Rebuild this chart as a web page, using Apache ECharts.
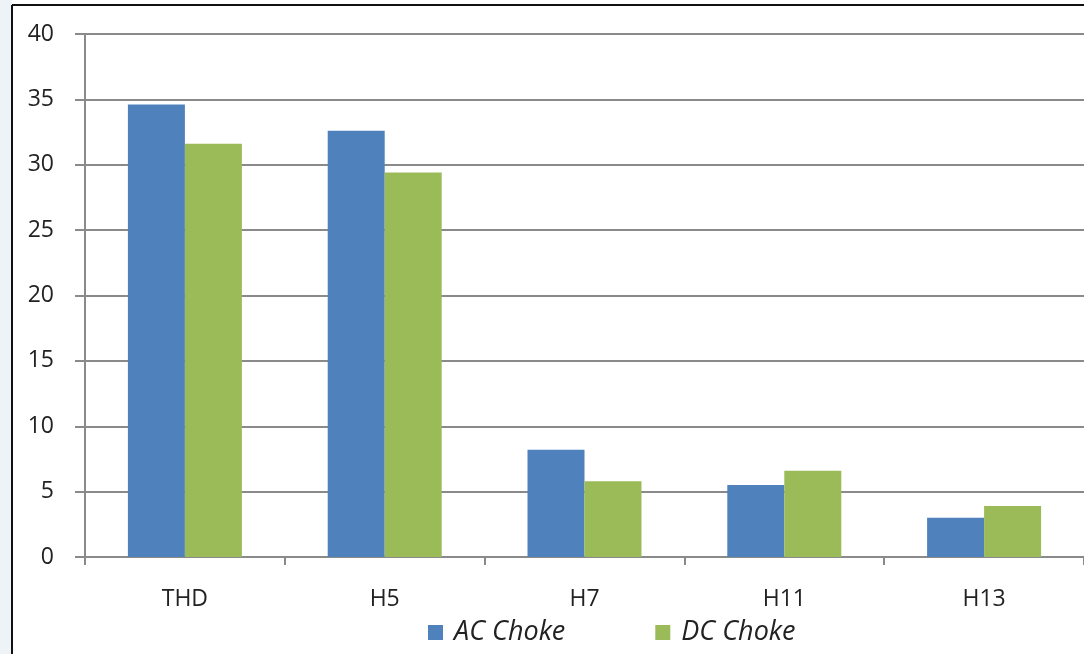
<!DOCTYPE html>
<html>
<head>
<meta charset="utf-8">
<script src="https://cdn.jsdelivr.net/npm/echarts@6/dist/echarts.min.js"></script>
<style>
  html, body { margin: 0; padding: 0; background: #fff; }
  #main { width: 1084px; height: 654px; }
</style>
</head>
<body>
<div id="main"></div>
<script type="text/javascript">
var categories = ['THD', 'H5', 'H7', 'H11', 'H13'];
var acChoke = [34.6, 32.6, 8.2, 5.5, 3.0];
var dcChoke = [31.6, 29.4, 5.8, 6.6, 3.9];
var yTicks = [0, 5, 10, 15, 20, 25, 30, 35, 40];

var myChart = echarts.init(document.getElementById('main'));
var lineColor = '#8a8a8a';
var option = {
    backgroundColor: '#ffffff',
    animation: false,
    // frame of the pasted picture: pale strip on the left, dark border
    graphic: [
        { type: 'rect', left: 0, top: 0, shape: { width: 12, height: 654 }, style: { fill: '#eef3f8' }, z: -1 },
        { type: 'line', shape: { x1: 12, y1: 5, x2: 1084, y2: 5 }, style: { stroke: '#111', lineWidth: 2 } },
        { type: 'line', shape: { x1: 12, y1: 5, x2: 12, y2: 654 }, style: { stroke: '#111', lineWidth: 2 } }
    ],
    grid: { left: 85, right: -5, top: 34, bottom: 97, containLabel: false },
    legend: {
        data: ['AC Choke', 'DC Choke'],
        top: 619,
        left: 428,
        padding: 0,
        itemWidth: 15,
        itemHeight: 15,
        itemGap: 90,
        icon: 'rect',
        textStyle: { fontFamily: 'Open Sans', fontStyle: 'italic', fontSize: 27, color: '#222', padding: [0, 0, 0, 6] }
    },
    xAxis: {
        type: 'category',
        data: categories,
        axisLine: { lineStyle: { color: lineColor, width: 2 } },
        axisTick: { show: true, length: 8, lineStyle: { color: lineColor, width: 2 } },
        axisLabel: { fontFamily: 'Open Sans', fontSize: 23, color: '#222', margin: 31 }
    },
    yAxis: {
        type: 'value',
        min: yTicks[0],
        max: yTicks[yTicks.length - 1],
        interval: yTicks[1] - yTicks[0],
        axisLine: { show: true, lineStyle: { color: lineColor, width: 2 } },
        axisTick: { show: true, length: 10, lineStyle: { color: lineColor, width: 2 } },
        axisLabel: { fontFamily: 'Open Sans', fontSize: 23, color: '#222', margin: 31 },
        splitLine: { lineStyle: { color: lineColor, width: 2 } }
    },
    series: [
        { name: 'AC Choke', type: 'bar', data: acChoke, barWidth: 57, barGap: '0%', itemStyle: { color: '#4f81bd' } },
        { name: 'DC Choke', type: 'bar', data: dcChoke, barWidth: 57, itemStyle: { color: '#9bbb59' } }
    ]
};
myChart.setOption(option);
</script>
</body>
</html>
